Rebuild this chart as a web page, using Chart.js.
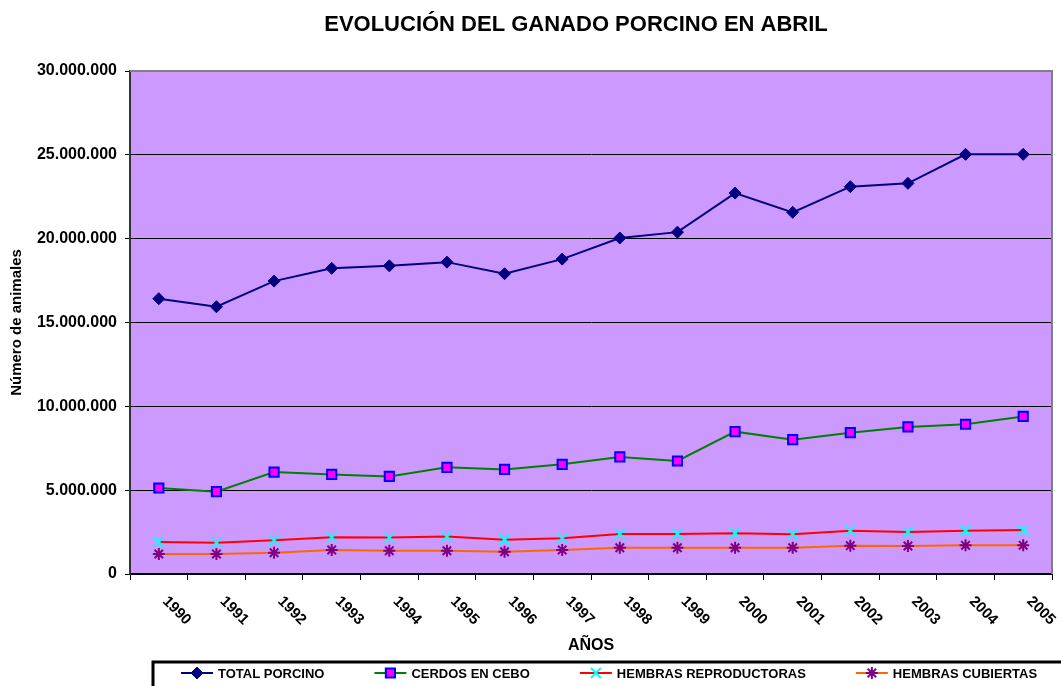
<!DOCTYPE html>
<html>
<head>
<meta charset="utf-8">
<script src="https://cdn.jsdelivr.net/npm/chart.js@4.4.0/dist/chart.umd.min.js"></script>
<style>
  html, body { margin: 0; padding: 0; background: #fff; }
</style>
</head>
<body>
<canvas id="porcino" width="1061" height="686"></canvas>
<script>
// Data
const years = ['1990', '1991', '1992', '1993', '1994', '1995', '1996', '1997',
               '1998', '1999', '2000', '2001', '2002', '2003', '2004', '2005'];

const totalPorcino = [16420000, 15940000, 17470000, 18230000, 18380000, 18600000, 17910000, 18780000,
                      20040000, 20390000, 22720000, 21570000, 23100000, 23300000, 25030000, 25030000];

const cerdosEnCebo = [5130000, 4910000, 6080000, 5940000, 5820000, 6360000, 6240000, 6540000,
                      6980000, 6740000, 8490000, 8010000, 8430000, 8770000, 8930000, 9400000];

const hembrasReproductoras = [1910000, 1870000, 2010000, 2190000, 2170000, 2230000, 2050000, 2130000,
                              2390000, 2390000, 2430000, 2370000, 2580000, 2500000, 2580000, 2620000];

const hembrasCubiertas = [1190000, 1190000, 1270000, 1430000, 1390000, 1390000, 1330000, 1430000,
                          1570000, 1570000, 1570000, 1570000, 1690000, 1670000, 1710000, 1710000];

const seriesNames = ['TOTAL PORCINO', 'CERDOS EN CEBO', 'HEMBRAS REPRODUCTORAS', 'HEMBRAS CUBIERTAS'];
const yTicks = [0, 5000000, 10000000, 15000000, 20000000, 25000000, 30000000];

const FONT = '"Liberation Sans", Arial, sans-serif';

// thousands separated with dots, as in the original
const formatNumber = (v) => String(v).replace(/\B(?=(\d{3})+(?!\d))/g, '.');

// Helper plugin: plot background, frame, rotated year labels, axis title, title and legend box
const decorations = {
    id: 'decorations',
    beforeDraw(chart) {
        const { ctx, chartArea: a } = chart;
        ctx.save();
        ctx.fillStyle = '#ffffff';
        ctx.fillRect(0, 0, chart.width, chart.height);
        ctx.fillStyle = '#CC99FF';
        ctx.fillRect(a.left, a.top, a.right - a.left, a.bottom - a.top);
        ctx.restore();
    },
    beforeDatasetsDraw(chart) {
        const { ctx, chartArea: a } = chart;
        ctx.save();
        ctx.strokeStyle = '#808080';
        ctx.lineWidth = 2;
        ctx.beginPath();
        ctx.moveTo(a.left, a.top);
        ctx.lineTo(a.right, a.top);
        ctx.lineTo(a.right, a.bottom);
        ctx.stroke();
        ctx.restore();
    },
    afterDraw(chart) {
        const { ctx, chartArea: a } = chart;
        const xScale = chart.scales.x;
        ctx.save();

        // year labels, rotated downwards
        ctx.fillStyle = '#000';
        ctx.font = 'bold 15px ' + FONT;
        ctx.textAlign = 'left';
        ctx.textBaseline = 'middle';
        years.forEach((label, i) => {
            const x = xScale.getPixelForValue(i);
            ctx.save();
            ctx.translate(x + 6, a.bottom + 25);
            ctx.rotate(Math.PI / 4);
            ctx.fillText(label, 0, 0);
            ctx.restore();
        });

        // x axis title
        ctx.textAlign = 'center';
        ctx.font = 'bold 16px ' + FONT;
        ctx.fillText('AÑOS', (a.left + a.right) / 2, 646);

        // chart title
        ctx.font = 'bold 22px ' + FONT;
        ctx.fillText('EVOLUCIÓN DEL GANADO PORCINO EN ABRIL', 576, 25);

        // legend box
        ctx.strokeStyle = '#000';
        ctx.lineWidth = 3;
        ctx.strokeRect(153, 662, 1000, 60);

        ctx.font = 'bold 13px ' + FONT;
        ctx.textAlign = 'left';
        let lx = 181;
        const ly = 673;
        chart.data.datasets.forEach((ds) => {
            ctx.strokeStyle = ds.borderColor;
            ctx.lineWidth = 2;
            ctx.beginPath();
            ctx.moveTo(lx, ly);
            ctx.lineTo(lx + 32, ly);
            ctx.stroke();

            ctx.fillStyle = ds.pointBackgroundColor;
            ctx.strokeStyle = ds.pointBorderColor;
            ctx.lineWidth = ds.pointBorderWidth;
            Chart.helpers.drawPoint(ctx, {
                pointStyle: ds.pointStyle,
                radius: ds.pointRadius,
                borderWidth: ds.pointBorderWidth,
                rotation: 0
            }, lx + 16, ly);

            ctx.fillStyle = '#000';
            ctx.fillText(ds.label, lx + 37, ly + 1);
            lx += 37 + ctx.measureText(ds.label).width + 50;
        });

        ctx.restore();
    }
};

const ctx = document.getElementById('porcino').getContext('2d');
const chart = new Chart(ctx, {
    type: 'line',
    data: {
        labels: years,
        datasets: [
            {
                label: seriesNames[0],
                data: totalPorcino,
                borderColor: '#000080',
                borderWidth: 2,
                pointStyle: 'rectRot',
                pointRadius: 6,
                pointBackgroundColor: '#000080',
                pointBorderColor: '#000080',
                pointBorderWidth: 1
            }, {
                label: seriesNames[1],
                data: cerdosEnCebo,
                borderColor: '#008000',
                borderWidth: 2,
                pointStyle: 'rect',
                pointRadius: 6.5,
                pointBackgroundColor: '#FF00FF',
                pointBorderColor: '#0000FF',
                pointBorderWidth: 2
            }, {
                label: seriesNames[2],
                data: hembrasReproductoras,
                borderColor: '#FF0000',
                borderWidth: 2,
                pointStyle: 'crossRot',
                pointRadius: 7,
                pointBackgroundColor: '#00FFFF',
                pointBorderColor: '#00FFFF',
                pointBorderWidth: 2
            }, {
                label: seriesNames[3],
                data: hembrasCubiertas,
                borderColor: '#FF6600',
                borderWidth: 2,
                pointStyle: 'star',
                pointRadius: 6,
                pointBackgroundColor: '#800080',
                pointBorderColor: '#800080',
                pointBorderWidth: 2
            }
        ]
    },
    options: {
        responsive: false,
        animation: false,
        devicePixelRatio: 1,
        layout: {
            padding: { top: 71, right: 7, left: 0, bottom: 0 }
        },
        elements: {
            line: { tension: 0 }
        },
        plugins: {
            legend: { display: false },
            title: { display: false },
            tooltip: { enabled: false }
        },
        scales: {
            x: {
                offset: true,
                afterFit: (scale) => { scale.height = 112; },
                grid: {
                    offset: true,
                    drawOnChartArea: false,
                    drawTicks: true,
                    tickLength: 6,
                    color: '#000'
                },
                border: { color: '#000', width: 2 },
                ticks: { display: false }
            },
            y: {
                min: 0,
                max: 30000000,
                afterFit: (scale) => { scale.width = 130; },
                afterBuildTicks: (scale) => {
                    scale.ticks = yTicks.map(v => ({ value: v }));
                },
                grid: {
                    color: '#000',
                    lineWidth: 1,
                    tickLength: 5
                },
                border: { color: '#333', width: 2 },
                ticks: {
                    color: '#000',
                    padding: 8,
                    font: { family: FONT, size: 16, weight: 'bold' },
                    callback: (v) => formatNumber(v)
                },
                title: {
                    display: true,
                    text: 'Número de animales',
                    color: '#000',
                    font: { family: FONT, size: 15, weight: 'bold' },
                    padding: { top: 8, bottom: 0 }
                }
            }
        }
    },
    plugins: [decorations]
});
</script>
</body>
</html>
